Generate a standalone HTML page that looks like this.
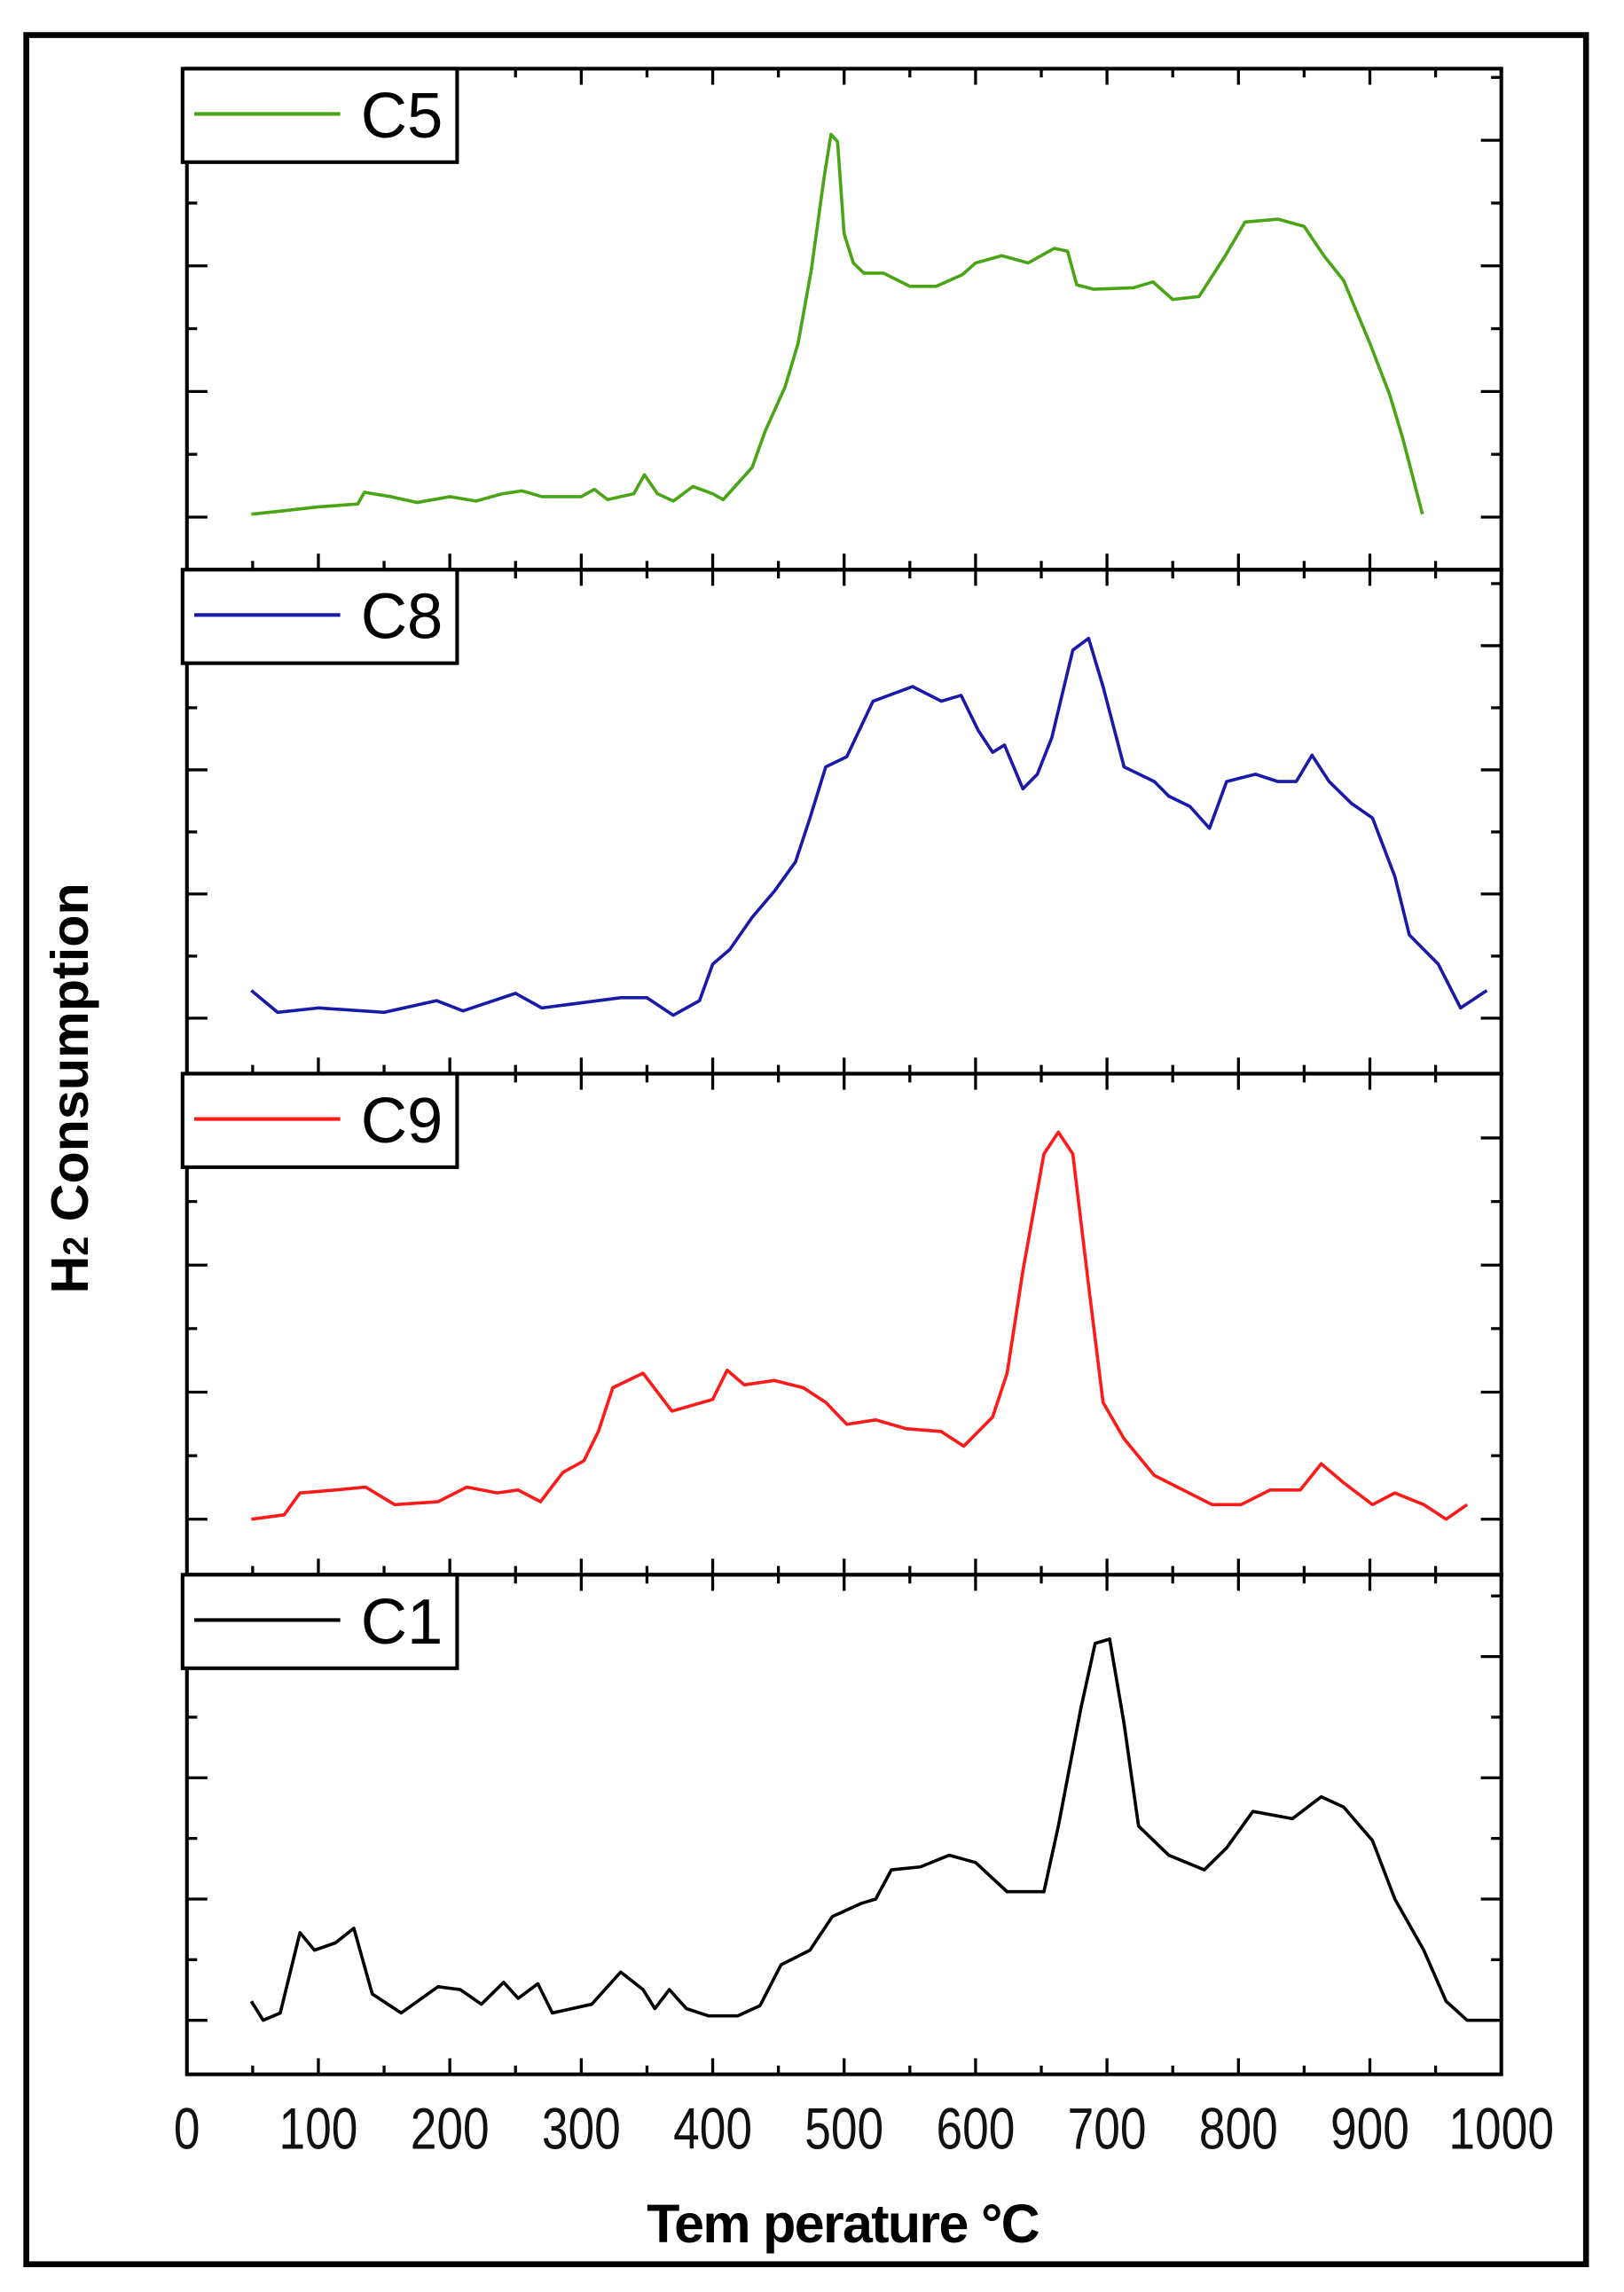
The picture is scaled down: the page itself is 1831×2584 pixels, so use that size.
<!DOCTYPE html>
<html><head><meta charset="utf-8"><style>
html,body{margin:0;padding:0;background:#fff;}
svg{display:block;}
text{font-family:"Liberation Sans",Arial,sans-serif;}
</style></head><body>
<svg id="chart" width="1831" height="2584" viewBox="0 0 1112 1569" preserveAspectRatio="none" xmlns="http://www.w3.org/2000/svg">
<rect x="18" y="24" width="1068" height="1526" fill="none" stroke="#000" stroke-width="4"/>
<g id="panels"></g>
<g id="xlabels"></g>
<text x="577" y="1535" font-size="37" font-weight="bold" text-anchor="middle" letter-spacing="-1">Tem perature °C</text>
<text transform="translate(60,745) rotate(-90)" font-size="36" font-weight="bold" text-anchor="middle">H<tspan font-size="24">2</tspan> Consumption</text>
</svg>
<script>
const xTickLabels=["0","100","200","300","400","500","600","700","800","900","1000"];
const seriesNames=["C5","C8","C9","C1"];
const seriesColors=["#4aa516","#1a1aa8","#ff1a1a","#000000"];
const c5T=[49,70,100,130,135,155,175,200,220,240,255,270,300,310,320,340,348,358,370,385,400,408,420,430,440,455,465,475,485,490,495,500,507,515,530,550,570,590,600,620,640,660,670,677,690,720,735,750,770,790,805,830,850,865,880,900,915,925,940];
const c5V=[2,4,7,9,17,14,10,14,11,16,18,14,14,19,12,16,29,16,11,21,16,12,24,34,59,89,119,169,234,262,257,194,174,167,167,158,158,166,174,179,174,184,182,159,156,157,161,149,151,179,202,204,199,179,162,119,84,54,2];
const c8T=[49,69,100,150,190,210,250,270,330,350,370,390,400,413,430,447,463,474,486,502,522,552,574,589,602,613,622,636,647,658,674,686,697,713,736,747,763,778,791,813,830,844,856,869,886,902,919,930,952,969,989];
const c8V=[19,4,7,4,12,5,17,7,14,14,2,12,37,47,69,87,107,137,172,179,217,227,217,221,197,182,187,157,167,192,252,260,227,172,162,152,145,130,162,167,162,162,180,162,147,137,97,57,37,7,19];
const c9T=[49,74,86,113,136,158,191,213,236,252,269,286,302,313,324,347,369,400,411,424,447,469,486,502,524,547,574,591,613,624,636,652,663,674,686,697,713,736,758,780,802,824,847,863,880,902,919,941,958,974];
const c9V=[0,3,18,20,22,10,12,22,18,20,12,32,40,60,90,100,74,82,102,92,95,90,80,65,68,62,60,50,70,100,170,250,265,250,160,80,55,30,20,10,10,20,20,38,25,10,18,10,0,10];
const c1T=[49,58,71,86,97,113,127,141,163,191,208,224,241,252,267,278,308,330,347,356,367,380,397,419,436,452,474,491,513,524,536,558,580,600,624,652,663,680,691,702,713,724,747,774,791,811,841,863,880,902,919,941,958,974,997];
const c1V=[13,0,5,60,48,53,63,18,5,23,21,11,26,15,25,5,11,33,21,8,21,8,3,3,10,38,48,71,80,83,103,105,113,108,88,88,133,213,258,261,203,133,113,103,118,143,138,153,146,123,83,48,13,0,0];
const allT=[c5T,c8T,c9T,c1T], allV=[c5V,c8V,c9V,c1V];

const NS="http://www.w3.org/2000/svg";
const X0=128, X1=1028;
const panelTop=[47,390,735,1078], panelBot=[390,735,1078,1420];
const baseY=[354,697,1040,1383], unit=[86,85,87,83];
function xS(t){return X0+(X1-X0)*t/1000;}
function yS(p,v){return baseY[p]-v;}
function mk(tag,attrs,parent){const e=document.createElementNS(NS,tag);for(const k in attrs)e.setAttribute(k,attrs[k]);parent.appendChild(e);return e;}
const g=document.getElementById('panels');
for(let p=0;p<4;p++){
  const pg=mk('g',{},g);
  
  
  const fr=mk('rect',{x:X0,y:panelTop[p],width:X1-X0,height:panelBot[p]-panelTop[p],fill:'none',stroke:'#000','stroke-width':2.5},pg);
  
  
  for(let t=0;t<=1000;t+=50){
    const maj=t%100===0, L=maj?11:6, x=xS(t);
    const a=mk('line',{x1:x,x2:x,y1:panelBot[p],y2:panelBot[p]-L,stroke:'#000','stroke-width':2},pg);
    
    
    const b=mk('line',{x1:x,x2:x,y1:panelTop[p],y2:panelTop[p]+L,stroke:'#000','stroke-width':2},pg);
    
    
  }
  for(let k=-0.5;k<=3.6;k+=0.5){
    const y=baseY[p]-k*unit[p];
    if(y<=panelTop[p]+2||y>=panelBot[p]-2)continue;
    const maj=Math.abs(k-Math.round(k))<0.01, L=maj?14:7;
    const a=mk('line',{x1:X0,x2:X0+L,y1:y,y2:y,stroke:'#000','stroke-width':2},pg);
    
    
    const b=mk('line',{x1:X1,x2:X1-L,y1:y,y2:y,stroke:'#000','stroke-width':2},pg);
    
    
  }
  const T=allT[p],V=allV[p];
  let d='';
  for(let i=0;i<T.length;i++)d+=(i?'L':'M')+xS(T[i]).toFixed(1)+' '+yS(p,V[i]).toFixed(1);
  const path=mk('path',{d:d,fill:'none',stroke:seriesColors[p],'stroke-width':2.2,'stroke-linejoin':'round'},pg);
  
  
  const lg=mk('g',{},pg);
  
  
  mk('rect',{x:125,y:panelTop[p],width:188,height:64,fill:'#fff',stroke:'#000','stroke-width':2.5},lg);
  mk('line',{x1:133,x2:233,y1:panelTop[p]+31,y2:panelTop[p]+31,stroke:seriesColors[p],'stroke-width':2.5},lg);
  const tx=mk('text',{x:247,y:panelTop[p]+47,'font-size':44},lg);
  tx.textContent=seriesNames[p];
}
const xl=document.getElementById('xlabels');
for(let i=0;i<xTickLabels.length;i++){
  const t=mk('text',{x:xS(i*100),y:1471,'font-size':40,'text-anchor':'middle',fill:'#111'},xl);
  
  
  t.setAttribute('textLength',xTickLabels[i].length*18);
  t.setAttribute('lengthAdjust','spacingAndGlyphs');
  t.textContent=xTickLabels[i];
}
</script>
</body></html>
